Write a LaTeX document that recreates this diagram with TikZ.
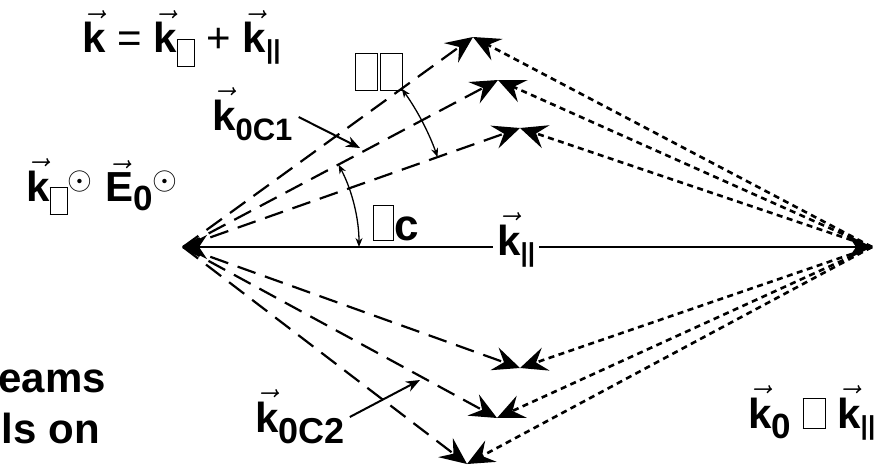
\documentclass[tikz,border=0pt]{standalone}
\usepackage{fix-cm}
\usepackage{amsmath}
\usepackage{fontspec}
\setmainfont{Liberation Sans}
\usetikzlibrary{arrows.meta}
\setlength\fboxsep{0pt}
\setlength\fboxrule{1pt}
\newcommand\kv{$\vec{\text{k}}$}
\newcommand\nobox[2]{\fbox{\rule{0pt}{#2}\rule{#1}{0pt}}}
\newcommand\lo[3]{\raisebox{-#1}{\fontsize{#2}{#2}\selectfont #3}}
\newcommand\dotin[1]{\raisebox{#1}{\fontsize{32}{32}\selectfont$\odot$}}

\begin{document}
\begin{tikzpicture}[x=1pt,y=1pt,
  beam/.style={line width=2.2pt, dash pattern=on 19pt off 10pt, -{Stealth[length=27pt,width=24pt,inset=10pt]}},
  ray/.style={line width=2.6pt, dash pattern=on 6pt off 4.5pt, -{Stealth[length=27pt,width=24pt,inset=10pt]}},
  angle/.style={line width=1.3pt, {Stealth[length=9pt,width=7pt]}-{Stealth[length=9pt,width=7pt]}},
  pointer/.style={line width=2pt, -{Stealth[length=14pt,width=11pt]}},
  lab/.style={inner sep=0pt, anchor=base west, font=\fontsize{42}{42}\selectfont\bfseries}]
  \useasboundingbox (0,0) rectangle (874,467);

  \coordinate (O) at (183,220);
  \coordinate (R) at (872,220);
  \coordinate (t1) at (473,430);
  \coordinate (t2) at (498,387);
  \coordinate (t3) at (520,339);
  \coordinate (t4) at (520,99);
  \coordinate (t5) at (497,49);
  \coordinate (t6) at (467,3);

  \foreach \t in {t1,t2,t3,t4,t5,t6} {
    \draw[beam] (O) -- (\t);
    \draw[ray] (R) -- (\t);
  }
  \draw[line width=2.5pt, {Stealth[length=24pt,width=24pt,inset=8pt]}-{Stealth[length=24pt,width=24pt,inset=8pt]}] (O) -- (R);
  \node[lab, fill=white, inner xsep=4pt] (kpar) at (493,212) {\kv\lo{6pt}{26}{||}};

  \draw[angle] ([shift={(0:176)}]O) arc[start angle=0, end angle=27.9, radius=176];
  \draw[angle] ([shift={(19.45:270)}]O) arc[start angle=19.45, end angle=35.9, radius=270];

  \node[lab] (eq) at (82,414) {\kv\ {\mdseries=} \kv\lo{13pt}{30}{\nobox{16pt}{26pt}}\ {\mdseries+} \kv\lo{6pt}{26}{||}};
  \node[lab] (kperp) at (26,266) {\kv\lo{13pt}{30}{\nobox{16pt}{26pt}}\dotin{12pt}};
  \node[lab] (E0) at (105,266) {$\vec{\text{E}}$\lo{9pt}{35}{0}\dotin{12pt}};
  \node[lab] (thc) at (373,227) {\nobox{19pt}{34pt}\lo{0pt}{44}{c}};
  \node[lab] (dth) at (355,377) {\nobox{21pt}{36pt}\hspace{2pt}\nobox{21pt}{36pt}};
  \node[lab] (k1) at (212,337) {\kv\lo{10pt}{31}{0C1}};
  \node[lab] (k2) at (255,35) {\kv\lo{11pt}{36}{0C2}};
  \node[lab] (kperp0) at (748,39) {\kv\lo{10pt}{35}{0}\ \nobox{21pt}{29pt}\ \kv\lo{6pt}{26}{||}};
  \node[lab, anchor=base east] (txt1) at (106,75) {eams};
  \node[lab, anchor=base east] (txt2) at (100,24) {ls on};

  \coordinate (p1) at (360,319);
  \coordinate (p2) at (420,87);
  \draw[pointer] ([shift={(6pt,13pt)}]k1.base east) -- (p1);
  \draw[pointer] ([shift={(5pt,15pt)}]k2.base east) -- (p2);
\end{tikzpicture}
\end{document}
